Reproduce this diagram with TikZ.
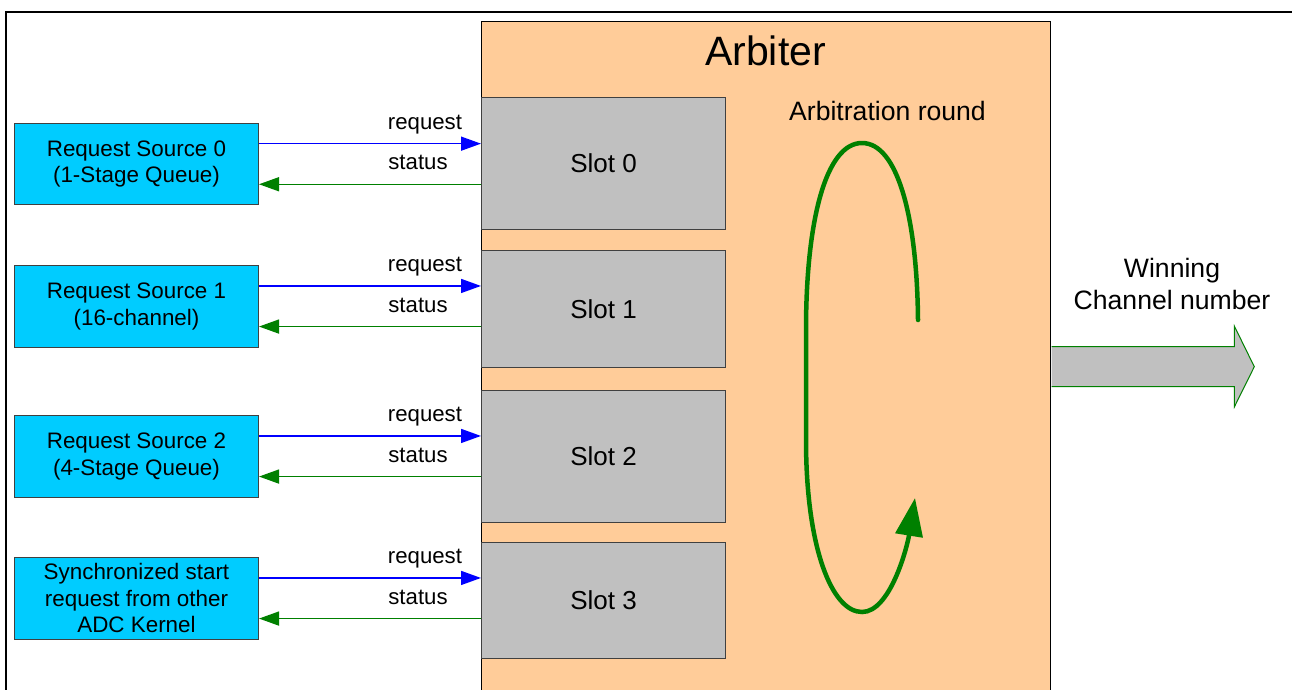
\documentclass[tikz,border=0pt]{standalone}
\usepackage{fontspec}
\setmainfont{Liberation Sans}
\usetikzlibrary{arrows.meta,calc}
\definecolor{arbfill}{RGB}{255,204,153}
\definecolor{slotfill}{RGB}{192,192,192}
\definecolor{srcfill}{RGB}{0,204,255}
\definecolor{loopgreen}{RGB}{0,128,0}
\definecolor{reqblue}{RGB}{0,0,255}
\definecolor{edgegray}{RGB}{64,64,64}
\begin{document}
\begin{tikzpicture}[x=1pt,y=-1pt,
  srcbox/.style={draw=edgegray, line width=1pt, fill=srcfill, minimum width=244pt,
    minimum height=81.5pt, anchor=north west, inner sep=0pt, align=center,
    font=\fontsize{22.4}{26.8}\selectfont},
  slotbox/.style={draw=edgegray, line width=1pt, fill=slotfill, minimum width=244pt,
    anchor=north west, inner sep=0pt, font=\fontsize{26}{31}\selectfont},
  reqline/.style={draw=reqblue, line width=1.5pt, -{Triangle[length=20pt,width=14pt]}},
  statline/.style={draw=loopgreen, line width=1.5pt, -{Triangle[length=20pt,width=14pt]}},
  lbl/.style={anchor=base, inner sep=0pt, font=\fontsize{22.2}{26}\selectfont},
]
\useasboundingbox (0,0) rectangle (1292,689);
\clip (0,0) rectangle (1292,689);

% outer frame
\draw[line width=2pt] (6,700) -- (6,12) -- (1300,12);

% arbiter block
\node[draw=black, line width=1pt, fill=arbfill, minimum width=569pt, minimum height=690pt,
  anchor=north west, inner sep=0pt] (arb) at (481,21) {};
\node[anchor=base, inner sep=0pt, font=\fontsize{41}{49}\selectfont] (arbtitle) at (765.5,65) {Arbiter};
\node[anchor=base, inner sep=0pt, font=\fontsize{26.6}{32}\selectfont] (roundlbl) at (887.5,120) {Arbitration round};

% slots
\node[slotbox, minimum height=132pt]   (sl0) at (481,97)    {Slot 0};
\node[slotbox, minimum height=116.7pt] (sl1) at (481,250)   {Slot 1};
\node[slotbox, minimum height=131.7pt] (sl2) at (481,390)   {Slot 2};
\node[slotbox, minimum height=116pt]   (sl3) at (481,542)   {Slot 3};

% request sources
\node[srcbox] (src0) at (14,122.7) {Request Source 0\\(1-Stage Queue)};
\node[srcbox] (src1) at (14,265)   {Request Source 1\\(16-channel)};
\node[srcbox] (src2) at (14,415)   {Request Source 2\\(4-Stage Queue)};
\node[srcbox, font=\fontsize{22.4}{26.5}\selectfont] (src3) at (14,557) {Synchronized start\\request from other\\ADC Kernel};

% request / status connections
\foreach \i in {0,1,2,3}{
  \draw[reqline] ([yshift=20.3pt]src\i.east) -- ([yshift=20.3pt]src\i.east -| sl\i.west)
    coordinate[pos=0] (rq\i);
  \draw[statline] ([yshift=-20.3pt]src\i.east -| sl\i.west) -- ([yshift=-20.3pt]src\i.east);
  \node[lbl] (reqlbl\i) at ($(rq\i -| 425,0)+(0,-14.5)$) {request};
  \node[lbl] (statlbl\i) at ($([yshift=-20.3pt]src\i.east -| 418,0)+(0,-14.5)$) {status};
}

% arbitration round loop
\draw[loopgreen, line width=4.5pt, line cap=round, -{Triangle[length=38pt,width=27pt]}]
  (918,320) .. controls (917,215) and (897,143) .. (862,143)
  .. controls (826,143) and (806,220) .. (806,330)
  -- (806,440)
  .. controls (806,548) and (832,612) .. (862,612)
  .. controls (890,612) and (907,548) .. (915,498);

% winning channel output arrow
\coordinate (wy) at (0,366.7);
\coordinate (wout) at (arb.east |- wy);
\path[fill=slotfill, draw=loopgreen, line width=1pt] ([xshift=0.5pt]wout) ++(0,-20)
  -- ++(182.8,0) -- ++(0,-20.7) -- ++(20,40.7) -- ++(-20,40.3) -- ++(0,-20.3) -- ++(-182.8,0);
\node[align=center, inner sep=0pt, font=\fontsize{26.6}{32}\selectfont] (winlbl) at (1172,284)
  {Winning\\Channel number};
\end{tikzpicture}
\end{document}
